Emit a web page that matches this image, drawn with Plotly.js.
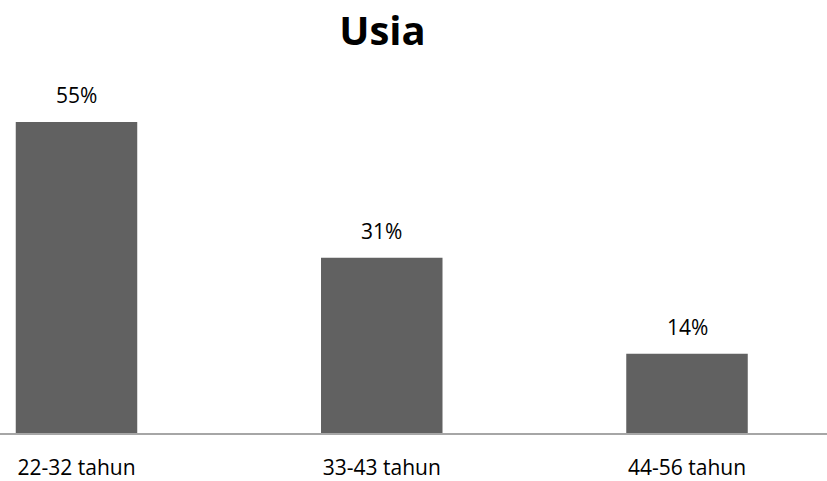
<!DOCTYPE html>
<html>
<head>
<meta charset="utf-8">
<script src="https://cdn.plot.ly/plotly-3.0.1.min.js"></script>
<style>html,body{margin:0;padding:0;background:#fff;}#chart{width:827px;height:481px;}</style>
</head>
<body>
<div id="chart"></div>
<script>
const categories = ["22-32 tahun", "33-43 tahun", "44-56 tahun"];
const values = [55, 31, 14];
const valueLabels = values.map(v => v + "%");

const trace = {
  type: "bar",
  x: categories,
  y: values,
  width: 0.398,
  marker: { color: "#616161" },
  hoverinfo: "none"
};

const annotations = categories.map((c, i) => ({
  x: c, y: values[i], xref: "x", yref: "y",
  text: valueLabels[i], showarrow: false,
  yanchor: "bottom", xanchor: "center", yshift: 11,
  font: { family: "Open Sans", size: 21, color: "#000" }
}));

const layout = {
  width: 827, height: 481,
  margin: { l: 0, r: 0, t: 60, b: 48, pad: 0 },
  paper_bgcolor: "#fff", plot_bgcolor: "#fff",
  showlegend: false,
  title: {
    text: "<b>Usia</b>",
    x: 382.5 / 827, xref: "paper", xanchor: "center",
    y: 1 - 31 / 481, yref: "container", yanchor: "middle",
    font: { family: "Open Sans", size: 40, color: "#000" }
  },
  xaxis: {
    type: "category",
    range: [-0.2506, 2.4586],
    showline: true, linecolor: "#a6a6a6", linewidth: 1.5,
    ticks: "", showgrid: false, zeroline: false,
    ticklabelstandoff: 15,
    tickfont: { family: "Open Sans", size: 21, color: "#000" },
    fixedrange: true
  },
  yaxis: {
    range: [0, 65.96],
    visible: false, showgrid: false, zeroline: false,
    fixedrange: true
  },
  annotations: annotations
};

Plotly.newPlot("chart", [trace], layout, { displayModeBar: false, staticPlot: true });
</script>
</body>
</html>
